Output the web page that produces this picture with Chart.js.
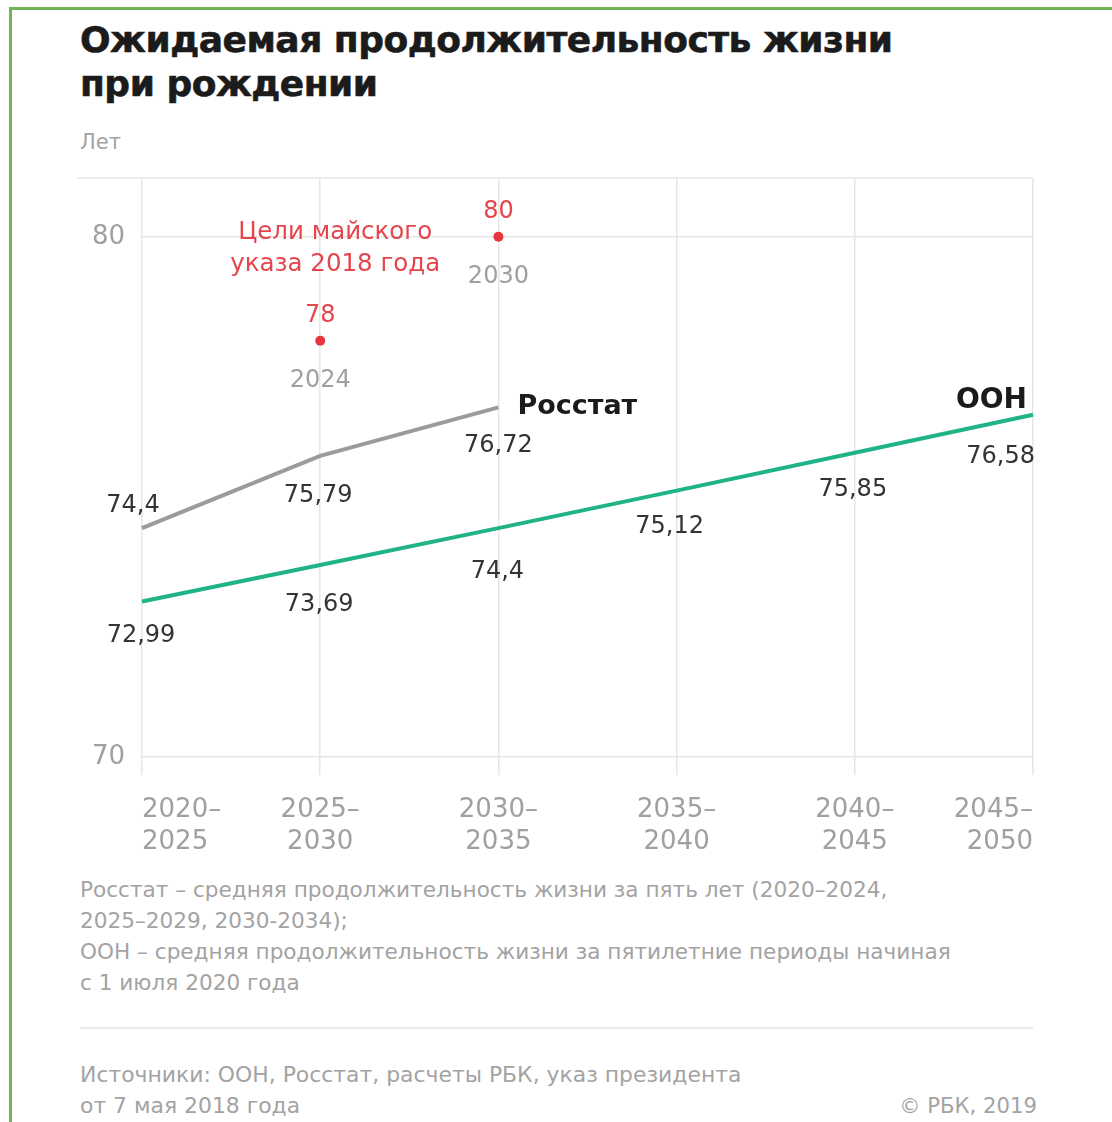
<!DOCTYPE html>
<html lang="ru">
<head>
<meta charset="utf-8">
<title>Ожидаемая продолжительность жизни при рождении</title>
<script src="https://cdn.jsdelivr.net/npm/chart.js@4.4.1/dist/chart.umd.min.js"></script>
<style>
html,body{margin:0;padding:0;background:#fff;}
body{width:1112px;height:1122px;position:relative;overflow:hidden;font-family:"DejaVu Sans",sans-serif;}
.frame-top{position:absolute;left:9px;top:7px;right:0;height:3px;background:#72b353;}
.frame-left{position:absolute;left:9px;top:7px;bottom:0;width:3px;background:#72b353;}
h1{position:absolute;left:80px;top:18px;margin:0;font:bold 36px/44px "DejaVu Sans",sans-serif;color:#1b1b1b;letter-spacing:-0.5px;-webkit-text-stroke:0.6px #1b1b1b;}
.unit{position:absolute;left:80px;top:128px;font-size:21px;line-height:28px;color:#a3a3a3;}
.chart-box{position:absolute;left:0;top:170px;width:1112px;height:700px;}
.note{position:absolute;left:80px;top:874px;font-size:21.6px;line-height:31px;color:#a3a3a3;}
.sep{position:absolute;left:80px;top:1027px;width:953px;height:2px;background:#ececec;}
.src{position:absolute;left:80px;top:1059px;font-size:21.9px;line-height:31px;color:#a3a3a3;}
.copy{position:absolute;right:75px;top:1090px;font-size:21.2px;line-height:31px;color:#a3a3a3;}
</style>
</head>
<body>
<div class="frame-top"></div>
<div class="frame-left"></div>
<h1>Ожидаемая продолжительность жизни<br>при рождении</h1>
<div class="unit">Лет</div>
<div class="chart-box"><canvas id="lifeChart"></canvas></div>
<div class="note">Росстат – средняя продолжительность жизни за пять лет (2020–2024,<br>2025–2029, 2030-2034);<br>ООН – средняя продолжительность жизни за пятилетние периоды начиная<br>с 1 июля 2020 года</div>
<div class="sep"></div>
<div class="src">Источники: ООН, Росстат, расчеты РБК, указ президента<br>от 7 мая 2018 года</div>
<div class="copy">© РБК, 2019</div>

<script>
const periodLabels = [['2020–','2025'],['2025–','2030'],['2030–','2035'],['2035–','2040'],['2040–','2045'],['2045–','2050']];
const rosstatValues = [74.4, 75.79, 76.72, null, null, null];
const unValues = [72.99, 73.69, 74.4, 75.12, 75.85, 76.58];
const targetValues = [null, 78, 80, null, null, null];
const targetYears = [null, '2024', '2030', null, null, null];
const targetCaption = ['Цели майского', 'указа 2018 года'];
const yTicks = [70, 80];
const yMin = 70;
const yMax = 81.13;

const FONT = '"DejaVu Sans", sans-serif';
const RED = '#e5464d';
const GRAY = '#a0a0a0';
const DARK = '#333333';

function fmt(v){
  return String(v).replace('.', ',');
}

// label offsets relative to each point: [dx, dy, align]
const rosstatLabelPos = [[-9,-25,'center'],[-2,37,'center'],[0,35,'center']];
const unLabelPos = [[-1,31,'center'],[-1,37,'center'],[-1,41,'center'],[-7,33,'center'],[-2,34,'center'],[2,39,'right']];

const annotate = {
  id:'annotate',
  beforeDatasetsDraw(chart){
    const {ctx, chartArea} = chart;
    ctx.save();
    ctx.strokeStyle = '#e6e6e6';
    ctx.lineWidth = 1.5;
    ctx.beginPath();
    ctx.moveTo(77, chartArea.top);
    ctx.lineTo(chartArea.right, chartArea.top);
    ctx.stroke();
    ctx.restore();
  },
  afterDatasetsDraw(chart){
    const ctx = chart.ctx;
    ctx.save();
    ctx.textBaseline = 'middle';
    ctx.translate(0, 3); // optical centring of digits

    function drawValues(dsIndex, values, pos){
      const pts = chart.getDatasetMeta(dsIndex).data;
      ctx.font = '24px ' + FONT;
      ctx.fillStyle = DARK;
      values.forEach((v, i)=>{
        if(v === null) return;
        const p = pts[i];
        const [dx, dy, align] = pos[i];
        ctx.textAlign = align;
        ctx.fillText(fmt(v), p.x + dx, p.y + dy);
      });
    }
    drawValues(0, rosstatValues, rosstatLabelPos);
    drawValues(1, unValues, unLabelPos);

    // series names
    ctx.fillStyle = '#1b1b1b';
    const rPts = chart.getDatasetMeta(0).data;
    const rLast = rPts[2];
    ctx.font = 'bold 27px ' + FONT;
    ctx.textAlign = 'left';
    ctx.fillText('Росстат', rLast.x + 19, rLast.y - 3);
    const uPts = chart.getDatasetMeta(1).data;
    const uLast = uPts[uPts.length - 1];
    ctx.font = 'bold 28px ' + FONT;
    ctx.textAlign = 'right';
    ctx.fillText('ООН', uLast.x - 6, uLast.y - 17);

    // targets
    const tPts = chart.getDatasetMeta(2).data;
    ctx.textAlign = 'center';
    targetValues.forEach((v, i)=>{
      if(v === null) return;
      const p = tPts[i];
      ctx.font = '24px ' + FONT;
      ctx.fillStyle = RED;
      ctx.fillText(fmt(v), p.x, p.y - 28);
      ctx.fillStyle = GRAY;
      ctx.fillText(targetYears[i], p.x, p.y + 37);
    });
    const first = tPts[1];
    ctx.font = '24.5px ' + FONT;
    ctx.fillStyle = RED;
    targetCaption.forEach((line, k)=>{
      ctx.fillText(line, first.x + 15, first.y - 111 + k * 32);
    });
    ctx.restore();
  }
};

const ctx = document.getElementById('lifeChart').getContext('2d');
new Chart(ctx, {
  type:'line',
  data:{
    labels: periodLabels,
    datasets:[
      {label:'Росстат', data:rosstatValues, borderColor:'#9b9b9b', borderWidth:4, pointRadius:0, tension:0},
      {label:'ООН', data:unValues, borderColor:'#20b387', borderWidth:4, pointRadius:0, tension:0},
      {label:'Цели майского указа', data:targetValues, showLine:false, pointRadius:5, pointBackgroundColor:'#e8353d', pointBorderWidth:0}
    ]
  },
  options:{
    responsive:true,
    maintainAspectRatio:false,
    animation:false,
    layout:{padding:{left:0, right:79, top:8, bottom:0}},
    plugins:{legend:{display:false}, tooltip:{enabled:false}},
    scales:{
      x:{
        offset:false,
        border:{display:false},
        grid:{color:'#e6e6e6', lineWidth:1.5, drawTicks:true, tickLength:18, tickColor:'#e6e6e6'},
        ticks:{align:'inner', padding:19, color:GRAY, maxRotation:0, autoSkip:false, font:{family:FONT, size:26, lineHeight:1.23}},
        afterFit(s){ s.height = 113; s.paddingLeft = 0; s.paddingRight = 0; }
      },
      y:{
        min:yMin, max:yMax,
        border:{display:false},
        grid:{color:'#e6e6e6', lineWidth:1.5, drawTicks:false},
        afterBuildTicks(s){ s.ticks = yTicks.map(v=>({value:v})); },
        ticks:{padding:17, color:GRAY, font:{family:FONT, size:26}},
        afterFit(s){ s.width = 142; s.paddingTop = 0; s.paddingBottom = 0; }
      }
    }
  },
  plugins:[annotate]
});
</script>
</body>
</html>
